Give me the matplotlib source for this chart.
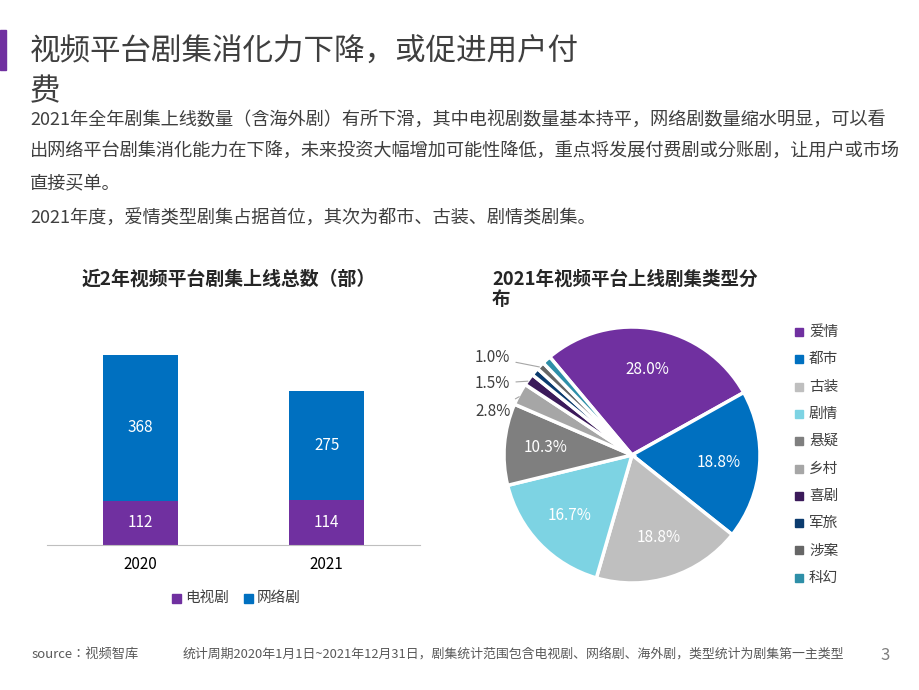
import matplotlib
matplotlib.use("Agg")
import matplotlib.pyplot as plt
from matplotlib import font_manager
import numpy as np

cjk = [f.name for f in font_manager.fontManager.ttflist if "CJK" in f.name]
fam = None
for pref in ["Noto Sans CJK SC", "Noto Sans CJK JP"]:
    if pref in cjk:
        fam = pref
        break
if fam is None and cjk:
    fam = cjk[0]
plt.rcParams['font.family'] = [fam] if fam else ['DejaVu Sans']
plt.rcParams['font.sans-serif'] = [fam] if fam else ['DejaVu Sans']

years = ["2020", "2021"]
tv = [112, 114]
web = [368, 275]
pie_labels = ["爱情", "都市", "古装", "剧情", "悬疑", "乡村", "喜剧", "军旅", "涉案", "科幻"]
pie_vals = [28.0, 18.8, 18.8, 16.7, 10.3, 2.8, 1.5, 1.0, 1.0, 1.1]
pie_colors = ["#7030A0", "#0070C0", "#BFBFBF", "#7DD3E3", "#7F7F7F", "#A6A6A6",
              "#3B1A5A", "#0B3B6E", "#666666", "#2E8FA8"]

fig = plt.figure(figsize=(9.2, 6.9), dpi=100)
W, H = 920, 690
def ax_px(l, t, r, b):
    return fig.add_axes([l / W, 1 - b / H, (r - l) / W, (b - t) / H])

fig.add_artist(plt.Rectangle((0, 1 - 70 / H), 6 / W, 40 / H, color="#7030A0", transform=fig.transFigure))
fig.text(30 / W, 1 - 52 / H, "视频平台剧集消化力下降，或促进用户付", fontsize=22, color="#3F3F3F", va="center")
fig.text(30 / W, 1 - 92 / H, "费", fontsize=22, color="#3F3F3F", va="center")
para = ["2021年全年剧集上线数量（含海外剧）有所下滑，其中电视剧数量基本持平，网络剧数量缩水明显，可以看",
        "出网络平台剧集消化能力在下降，未来投资大幅增加可能性降低，重点将发展付费剧或分账剧，让用户或市场",
        "直接买单。"]
for i, s in enumerate(para):
    fig.text(30 / W, 1 - (121 + i * 31) / H, s, fontsize=13.1, color="#3F3F3F", va="center")
fig.text(30 / W, 1 - 218 / H, "2021年度，爱情类型剧集占据首位，其次为都市、古装、剧情类剧集。", fontsize=13.1, color="#3F3F3F", va="center")

fig.text(229 / W, 1 - 279 / H, "近2年视频平台剧集上线总数（部）", fontsize=13.6, fontweight="bold", color="#262626", ha="center", va="center")
fig.text(492 / W, 1 - 279 / H, "2021年视频平台上线剧集类型分", fontsize=13.3, fontweight="bold", color="#262626", va="center")
fig.text(492 / W, 1 - 300 / H, "布", fontsize=13.3, fontweight="bold", color="#262626", va="center")

# bar chart
ax = ax_px(47, 300, 420, 545)
x = [0, 1]
ax.bar(x, tv, width=0.4, color="#7030A0")
ax.bar(x, web, width=0.4, bottom=tv, color="#0070C0")
for i in x:
    ax.text(i, tv[i] / 2, str(tv[i]), ha="center", va="center", color="white", fontsize=11)
    ax.text(i, tv[i] + web[i] / 2, str(web[i]), ha="center", va="center", color="white", fontsize=11)
ax.set_xlim(-0.5, 1.5)
ax.set_ylim(0, 619)
ax.set_xticks(x)
ax.set_xticklabels(years, fontsize=11)
ax.tick_params(axis="x", length=0, pad=8)
ax.set_yticks([])
for s in ["top", "right", "left"]:
    ax.spines[s].set_visible(False)
ax.spines["bottom"].set_color("#BFBFBF")
fig.patches.append(plt.Rectangle((172 / W, 1 - 603 / H), 9 / W, 9 / H, color="#7030A0", transform=fig.transFigure))
fig.text(185 / W, 1 - 598 / H, "电视剧", fontsize=10.5, va="center", color="#3F3F3F")
fig.patches.append(plt.Rectangle((244 / W, 1 - 603 / H), 9 / W, 9 / H, color="#0070C0", transform=fig.transFigure))
fig.text(257 / W, 1 - 598 / H, "网络剧", fontsize=10.5, va="center", color="#3F3F3F")

# pie
pax = ax_px(504, 327, 760, 583)
wedges, _ = pax.pie(pie_vals, colors=pie_colors, startangle=130, counterclock=False,
                    wedgeprops=dict(edgecolor="white", linewidth=2.5))
for i, w in enumerate(wedges):
    if pie_vals[i] >= 10:
        a = np.deg2rad((w.theta1 + w.theta2) / 2)
        pax.text(0.68 * np.cos(a), 0.68 * np.sin(a), f"{pie_vals[i]:.1f}%",
                 ha="center", va="center", color="white", fontsize=11)
for idx, ty in [(5, 0.34), (6, 0.56), (8, 0.76)]:
    w = wedges[idx]
    a = np.deg2rad((w.theta1 + w.theta2) / 2)
    px, py = np.cos(a), np.sin(a)
    lab = {5: 2.8, 6: 1.5, 8: 1.0}[idx]
    pax.annotate(f"{lab:.1f}%", xy=(px * 0.98, py * 0.98), xytext=(-0.95, ty),
                 ha="right", va="center", fontsize=11, color="#3F3F3F",
                 arrowprops=dict(arrowstyle="-", color="#A6A6A6", lw=0.8))
pax.set_aspect("equal")
pax.set_xlim(-1, 1)
pax.set_ylim(-1, 1)

for i, (lab, c) in enumerate(zip(pie_labels, pie_colors)):
    y = 332 + i * 27.3
    fig.patches.append(plt.Rectangle((795 / W, 1 - (y + 4) / H), 8 / W, 8 / H, color=c, transform=fig.transFigure))
    fig.text(809 / W, 1 - y / H, lab, fontsize=10.5, va="center", color="#3F3F3F")

fig.text(32 / W, 1 - 654 / H, "source：视频智库", fontsize=9.5, color="#595959", va="center")
fig.text(183 / W, 1 - 654 / H, "统计周期2020年1月1日~2021年12月31日，剧集统计范围包含电视剧、网络剧、海外剧，类型统计为剧集第一主类型",
         fontsize=9.3, color="#595959", va="center")
fig.text(880 / W, 1 - 656 / H, "3", fontsize=12, color="#7F7F7F", va="center")

fig.savefig("out.png", dpi=100)
